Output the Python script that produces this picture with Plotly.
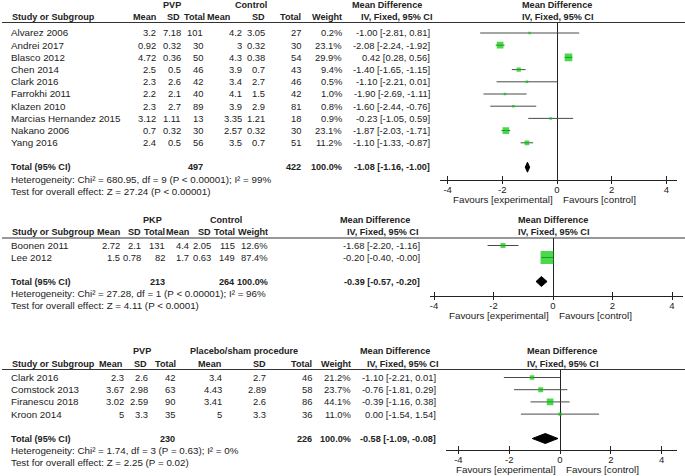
import math
import plotly.graph_objects as go

W, H = 685, 476
FONT = "Liberation Sans, Arial, sans-serif"
FS = 9.8      # regular label text
FSN = 9.4     # numeric cells
FSB = 9.1     # bold text
TC = "#222222"
GREEN = "#00c800"
LINEC = "#4a4a4a"

# ---------------- Panel 1: PVP vs Control ----------------
p1_studies = ["Alvarez 2006", "Andrei 2017", "Blasco 2012", "Chen 2014", "Clark 2016",
              "Farrokhi 2011", "Klazen 2010", "Marcias Hernandez 2015", "Nakano 2006", "Yang 2016"]
p1_exp_mean = [3.2, 0.92, 4.72, 2.5, 2.3, 2.2, 2.3, 3.12, 0.7, 2.4]
p1_exp_sd = [7.18, 0.32, 0.36, 0.5, 2.6, 2.1, 2.7, 1.11, 0.32, 0.5]
p1_exp_n = [101, 30, 50, 46, 42, 40, 89, 13, 30, 56]
p1_ctl_mean = [4.2, 3, 4.3, 3.9, 3.4, 4.1, 3.9, 3.35, 2.57, 3.5]
p1_ctl_sd = [3.05, 0.32, 0.38, 0.7, 2.7, 1.5, 2.9, 1.21, 0.32, 0.7]
p1_ctl_n = [27, 30, 54, 43, 46, 42, 81, 18, 30, 51]
p1_weight = [0.2, 23.1, 29.9, 9.4, 0.5, 1.0, 0.8, 0.9, 23.1, 11.2]
p1_md = [-1.00, -2.08, 0.42, -1.40, -1.10, -1.90, -1.60, -0.23, -1.87, -1.10]
p1_lo = [-2.81, -2.24, 0.28, -1.65, -2.21, -2.69, -2.44, -1.05, -2.03, -1.33]
p1_hi = [0.81, -1.92, 0.56, -1.15, 0.01, -1.11, -0.76, 0.59, -1.71, -0.87]
p1_total_n = [497, 422]
p1_total_ci = [-1.08, -1.16, -1.00]
p1_het = "Heterogeneity: Chi² = 680.95, df = 9 (P < 0.00001); I² = 99%"
p1_test = "Test for overall effect: Z = 27.24 (P < 0.00001)"

# ---------------- Panel 2: PKP vs Control ----------------
p2_studies = ["Boonen 2011", "Lee 2012"]
p2_exp_mean = [2.72, 1.5]
p2_exp_sd = [2.1, 0.78]
p2_exp_n = [131, 82]
p2_ctl_mean = [4.4, 1.7]
p2_ctl_sd = [2.05, 0.63]
p2_ctl_n = [115, 149]
p2_weight = [12.6, 87.4]
p2_md = [-1.68, -0.20]
p2_lo = [-2.20, -0.40]
p2_hi = [-1.16, -0.0]
p2_total_n = [213, 264]
p2_total_ci = [-0.39, -0.57, -0.20]
p2_het = "Heterogeneity: Chi² = 27.28, df = 1 (P < 0.00001); I² = 96%"
p2_test = "Test for overall effect: Z = 4.11 (P < 0.0001)"

# ---------------- Panel 3: PVP vs Placebo/sham ----------------
p3_studies = ["Clark 2016", "Comstock 2013", "Firanescu 2018", "Kroon 2014"]
p3_exp_mean = [2.3, 3.67, 3.02, 5]
p3_exp_sd = [2.6, 2.98, 2.59, 3.3]
p3_exp_n = [42, 63, 90, 35]
p3_ctl_mean = [3.4, 4.43, 3.41, 5]
p3_ctl_sd = [2.7, 2.89, 2.6, 3.3]
p3_ctl_n = [46, 58, 86, 36]
p3_weight = [21.2, 23.7, 44.1, 11.0]
p3_md = [-1.10, -0.76, -0.39, 0.00]
p3_lo = [-2.21, -1.81, -1.16, -1.54]
p3_hi = [0.01, 0.29, 0.38, 1.54]
p3_total_n = [230, 226]
p3_total_ci = [-0.58, -1.09, -0.08]
p3_het = "Heterogeneity: Chi² = 1.74, df = 3 (P = 0.63); I² = 0%"
p3_test = "Test for overall effect: Z = 2.25 (P = 0.02)"

tick_vals = [-4, -2, 0, 2, 4]
tick_text = ["-4", "-2", "0", "2", "4"]
col_headers = ["Mean", "SD", "Total", "Mean", "SD", "Total", "Weight"]

panels = [
    dict(exp="PVP", ctl="Control", studies=p1_studies,
         cols=[p1_exp_mean, p1_exp_sd, p1_exp_n, p1_ctl_mean, p1_ctl_sd, p1_ctl_n],
         weight=p1_weight, md=p1_md, lo=p1_lo, hi=p1_hi, tn=p1_total_n, tci=p1_total_ci,
         het=p1_het, test=p1_test,
         grp_y=5, hdr_y=17, line_y=22.5, row0=33, dy=12.2, axis_y=180,
         colx=[157, 182, 204, 243, 266, 302, 343], hdrx=[157, 181, 206, 231, 266, 302, 343],
         expc=172, ctlc=251, mdr=431, mdh=(387, 396),
         ax0=440, ax1=677, zero=557, scale=27.35, fc=557, sq=1.39),
    dict(exp="PKP", ctl="Control", studies=p2_studies,
         cols=[p2_exp_mean, p2_exp_sd, p2_exp_n, p2_ctl_mean, p2_ctl_sd, p2_ctl_n],
         weight=p2_weight, md=p2_md, lo=p2_lo, hi=p2_hi, tn=p2_total_n, tci=p2_total_ci,
         het=p2_het, test=p2_test,
         grp_y=220, hdr_y=232, line_y=238, row0=245.5, dy=12.0, axis_y=296,
         colx=[121, 142, 166, 190, 212, 236, 269], hdrx=[121, 142, 166, 190, 212, 236, 269],
         expc=152, ctlc=226, mdr=421, mdh=(375, 382),
         ax0=430, ax1=683, zero=553, scale=29.75, fc=553, sq=1.39),
    dict(exp="PVP", ctl="Placebo/sham procedure", studies=p3_studies,
         cols=[p3_exp_mean, p3_exp_sd, p3_exp_n, p3_ctl_mean, p3_ctl_sd, p3_ctl_n],
         weight=p3_weight, md=p3_md, lo=p3_lo, hi=p3_hi, tn=p3_total_n, tci=p3_total_ci,
         het=p3_het, test=p3_test,
         grp_y=351, hdr_y=363.5, line_y=369.5, row0=377.5, dy=12.2, axis_y=450,
         colx=[125, 149, 176, 223, 267, 313, 352], hdrx=[123, 148, 177, 222, 267, 313, 352],
         expc=142, ctlc=244, mdr=437, mdh=(395, 402),
         ax0=446, ax1=677, zero=560, scale=25.4, fc=562, sq=1.0),
]

annotations = []
shapes = []
fig = go.Figure()


def txt(x, y, s, anchor="left", bold=False, size=None):
    if size is None:
        size = FSB if bold else FS
    annotations.append(dict(
        x=x / W, y=1 - y / H, xref="paper", yref="paper",
        text=("<b>%s</b>" % s) if bold else s,
        xanchor=anchor, yanchor="middle", showarrow=False, borderpad=0,
        font=dict(size=size, color=TC, family=FONT)))


def fmt(v):
    return f"{v:g}"


def ci_text(md, lo, hi):
    return f"{md:.2f} [{lo:.2f}, {hi:.2f}]"


layout_axes = {}
for k, p in enumerate(panels, start=1):
    xa = "x" if k == 1 else f"x{k}"
    ya = "y" if k == 1 else f"y{k}"
    xo = f"x{k + 3}"
    n = len(p["studies"])
    ys = [p["row0"] + i * p["dy"] for i in range(n)]
    ty = p["row0"] + (n + 1) * p["dy"]

    # headers
    txt(p["expc"], p["grp_y"], p["exp"], "center", True)
    txt(p["ctlc"], p["grp_y"], p["ctl"], "center", True)
    txt(p["mdh"][0], p["grp_y"], "Mean Difference", "center", True)
    txt(p["mdh"][1], p["hdr_y"], "IV, Fixed, 95% CI", "center", True)
    txt(p["fc"], p["grp_y"], "Mean Difference", "center", True)
    txt(p["fc"], p["hdr_y"], "IV, Fixed, 95% CI", "center", True)
    txt(11, p["hdr_y"], "Study or Subgroup", "left", True)
    for hx, h in zip(p["hdrx"], col_headers):
        txt(hx, p["hdr_y"], h, "right", True)
    shapes.append(dict(type="line", xref="paper", yref="paper",
                       x0=2 / W, x1=1, y0=1 - p["line_y"] / H, y1=1 - p["line_y"] / H,
                       line=dict(color="#333333", width=1.2)))

    # study rows
    for i in range(n):
        txt(10, ys[i], p["studies"][i], "left")
        for cx, col in zip(p["colx"][:6], p["cols"]):
            txt(cx, ys[i], fmt(col[i]), "right", size=FSN)
        txt(p["colx"][6], ys[i], f"{p['weight'][i]:.1f}%", "right", size=FSN)
        txt(p["mdr"], ys[i], ci_text(p["md"][i], p["lo"][i], p["hi"][i]), "right", size=FSN)

    # total row
    txt(10, ty, "Total (95% CI)", "left", True)
    txt(p["colx"][2], ty, str(p["tn"][0]), "right", True)
    txt(p["colx"][5], ty, str(p["tn"][1]), "right", True)
    txt(p["colx"][6], ty, "100.0%", "right", True)
    txt(p["mdr"], ty, ci_text(*p["tci"]), "right", True)
    txt(10, ty + 12.2, p["het"], "left")
    txt(10, ty + 24.4, p["test"], "left")

    # favours labels
    txt(p["zero"] - 3, p["axis_y"] + 19, "Favours [experimental]", "right")
    txt(p["zero"] + 5, p["axis_y"] + 19, "Favours [control]", "left")

    # CI lines
    lx, ly = [], []
    for i in range(n):
        lx += [p["lo"][i], p["hi"][i], None]
        ly += [ys[i], ys[i], None]
    fig.add_trace(go.Scatter(x=lx, y=ly, mode="lines", xaxis=xa, yaxis=ya,
                             line=dict(color=LINEC, width=1), hoverinfo="skip", showlegend=False))
    # squares (area proportional to weight)
    sizes = [max(2.5, p["sq"] * math.sqrt(w)) for w in p["weight"]]
    fig.add_trace(go.Scatter(x=p["md"], y=ys, mode="markers", xaxis=xa, yaxis=ya,
                             marker=dict(symbol="square", size=sizes, color=GREEN, line=dict(width=0)),
                             showlegend=False))
    # diamond for the pooled estimate
    md, lo, hi = p["tci"]
    hh = 5
    fig.add_trace(go.Scatter(x=[lo, md, hi, md, lo], y=[ty, ty - hh, ty, ty + hh, ty],
                             mode="lines", fill="toself", fillcolor="#000000",
                             line=dict(color="#000000", width=1), xaxis=xa, yaxis=ya,
                             showlegend=False, hoverinfo="skip"))
    # overlay axis trace (for inward ticks, so ticks cross the axis line)
    fig.add_trace(go.Scatter(x=[None], y=[None], xaxis=xo, yaxis=ya, showlegend=False))

    rng = [(p["ax0"] - p["zero"]) / p["scale"], (p["ax1"] - p["zero"]) / p["scale"]]
    dom_x = [p["ax0"] / W, p["ax1"] / W]
    dom_y = [1 - p["axis_y"] / H, 1 - p["line_y"] / H]
    xkey = "xaxis" if k == 1 else f"xaxis{k}"
    ykey = "yaxis" if k == 1 else f"yaxis{k}"
    layout_axes[xkey] = dict(domain=dom_x, range=rng, anchor=ya, showline=True, linecolor="#222222",
                             linewidth=1, ticks="outside", ticklen=3, tickcolor="#222222",
                             tickvals=tick_vals, ticktext=tick_text, showgrid=False,
                             ticklabelstandoff=-2,
                             zeroline=True, zerolinecolor="#222222", zerolinewidth=1,
                             tickfont=dict(size=9.5, color=TC, family=FONT), fixedrange=True)
    layout_axes[f"xaxis{k + 3}"] = dict(domain=dom_x, range=rng, anchor=ya, overlaying=xa,
                                        showline=False, ticks="inside", ticklen=4, tickcolor="#222222",
                                        tickvals=tick_vals, showticklabels=False, showgrid=False,
                                        zeroline=False, fixedrange=True)
    layout_axes[ykey] = dict(domain=dom_y, range=[p["axis_y"], p["line_y"]], visible=False,
                             showgrid=False, zeroline=False, fixedrange=True)

fig.update_layout(width=W, height=H, margin=dict(l=0, r=0, t=0, b=0),
                  plot_bgcolor="white", paper_bgcolor="white", showlegend=False,
                  font=dict(family=FONT, size=FS, color=TC),
                  annotations=annotations, shapes=shapes, **layout_axes)

fig.write_html("out.html", config={"displayModeBar": False},
               post_script="document.body.style.margin='0px';document.body.style.overflow='hidden';")
